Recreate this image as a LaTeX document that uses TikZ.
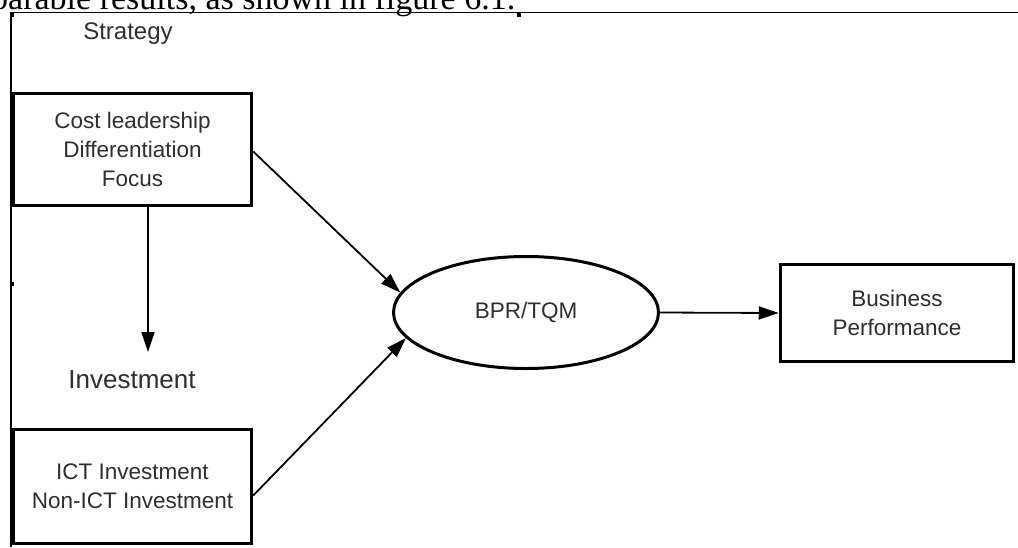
\documentclass[tikz,border=0pt]{standalone}
\usepackage{fontspec}
\setmainfont{Liberation Sans}
\newfontfamily\serifface{Liberation Serif}
\usetikzlibrary{arrows.meta,shapes.geometric}
\begin{document}
\begin{tikzpicture}[x=1pt,y=-1pt,
  boxtext/.style={text=black!82,font=\fontsize{22.5}{29}\selectfont,align=center},
  stepbox/.style={draw=black,line width=3.5pt,inner sep=0pt,boxtext},
  oval/.style={ellipse,draw=black,line width=3pt,inner sep=0pt,boxtext},
  heading/.style={anchor=base,inner sep=0pt,text=black!82},
  flow/.style={draw=black,line width=1.8pt,-{Triangle[length=20pt,width=13pt]}},
  frame/.style={draw=black,line width=1.6pt},
  marker/.style={fill=black}]
\useasboundingbox (0,0) rectangle (1018,547);
\clip (0,0) rectangle (1018,547);

% running text above the figure frame
\node[anchor=base west,inner sep=0pt,font=\serifface\fontsize{34}{34}\selectfont]
  (caption) at (-9,9.5) {parable results, as shown in figure 6.1.};

% frame lines and corner markers
\draw[frame] (10,12.5) -- (1018,12.5);
\draw[frame] (11,12.5) -- (11,547);
\fill[marker] (10,13) rectangle (14,17);
\fill[marker] (517,13) rectangle (521,17);
\fill[marker] (10,282) rectangle (14,286);

% headings
\node[heading,font=\fontsize{24}{24}\selectfont] (strategy) at (128,39) {Strategy};
\node[heading,font=\fontsize{26}{26}\selectfont] (investment) at (132,388) {Investment};

% boxes
\node[stepbox,minimum width=238pt,minimum height=112pt] (strat) at (132.5,149.5)
  {Cost leadership\\Differentiation\\Focus};
\node[stepbox,minimum width=238pt,minimum height=114pt] (invest) at (132.5,486.5)
  {ICT Investment\\Non-ICT Investment};
\node[oval,minimum width=265pt,minimum height=112pt] (bpr) at (526,312.5) {BPR/TQM};
\node[stepbox,minimum width=233pt,minimum height=97pt] (perf) at (897,313)
  {Business\\Performance};

% connectors
\coordinate (invtip) at (148,352);
\draw[flow] (strat.south -| invtip) -- (invtip);
\draw[flow] ([yshift=-2pt]strat.east) -- (bpr.171);
\draw[flow] ([yshift=-9pt]invest.east) -- (bpr.192);
\draw[flow] (bpr.east) -- (perf.west);
\end{tikzpicture}
\end{document}
